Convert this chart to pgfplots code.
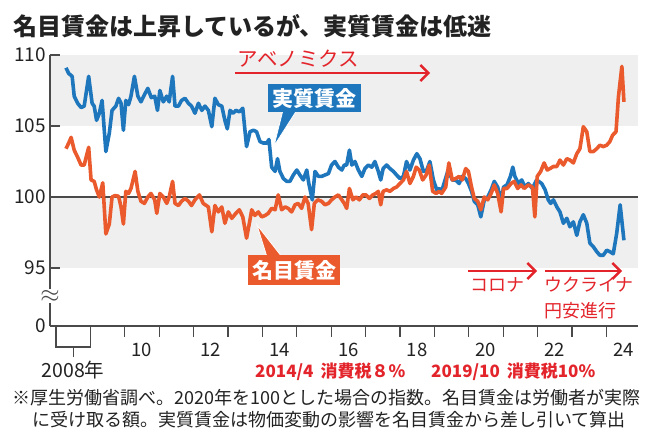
\documentclass[border=0pt]{standalone}
\usepackage{fontspec}
\setmainfont{Noto Sans CJK JP}
\usepackage{pgfplots}
\pgfplotsset{compat=1.18}
\usetikzlibrary{arrows.meta}
\definecolor{realblue}{HTML}{1E76BC}
\definecolor{nomorange}{HTML}{EA5A2C}
\definecolor{annred}{HTML}{E3242B}
\definecolor{band}{HTML}{EFEFEF}
\definecolor{axisgray}{HTML}{4A4A4A}
\definecolor{txt}{HTML}{222222}
\begin{document}
\begin{tikzpicture}
\begin{scope}[x=1pt,y=1pt]
\useasboundingbox (0,0) rectangle (656,432);
\fill[white] (0,0) rectangle (656,432);
\node[anchor=west, inner sep=0pt, text=txt, font=\fontsize{24}{24}\selectfont\bfseries] at (13,{432-26}) {名目賃金は上昇しているが、実質賃金は低迷};
\end{scope}
\begin{axis}[
  at={(50pt,106pt)}, anchor=south west,
  scale only axis, width=588pt, height=271pt,
  xmin=2007.826, xmax=2024.919, ymin=90.915, ymax=110,
  clip=false,
  axis on top,
  axis lines=left, axis line style={-, draw=axisgray, line width=1.2pt},
  ytick={90.915,95,100,105,110}, yticklabels={0,95,100,105,110},
  tick align=inside, major tick length=10pt,
  tick style={draw=axisgray, line width=1.2pt},
  xtick={2010.5,2012.5,2014.5,2016.5,2018.5,2020.5,2022.5,2024.5},
  xticklabels={10,12,14,16,18,20,22,24},
  major x tick style={draw=none},
  yticklabel style={font=\fontsize{19}{19}\selectfont, text=txt, anchor=east, inner sep=0pt, xshift=-4pt},
  xticklabel style={font=\fontsize{18.5}{18.5}\selectfont, text=txt, anchor=north, inner sep=0pt, yshift=-17pt},
]
\fill[band] (axis cs:2007.826,95) rectangle (axis cs:2024.919,100);
\fill[band] (axis cs:2007.826,105) rectangle (axis cs:2024.919,110);
\draw[axisgray, line width=1.2pt] (axis cs:2007.826,100) -- (axis cs:2024.919,100);
\pgfplotsinvokeforeach{2008,2009,2010,2011,2012,2013,2014,2015,2016,2017,2018,2019,2020,2021,2022,2023,2024}{
  \draw[axisgray, line width=1.2pt] (axis cs:#1,90.915) -- (axis cs:#1,90.14);
}
\addplot[realblue, line width=3.6pt, line join=round] coordinates {
(2008.29,109.1) (2008.37,108.7) (2008.47,108.5) (2008.53,107.1) (2008.63,106.6)
(2008.73,106.3) (2008.82,106.4) (2008.95,108.5) (2009.05,106.6) (2009.11,106.4)
(2009.18,105.4) (2009.26,105.9) (2009.34,106.8) (2009.45,103.2) (2009.55,104.5)
(2009.63,106.1) (2009.74,106.4) (2009.82,106.95) (2009.89,106.6) (2009.96,104.7)
(2010.03,106.8) (2010.11,106.5) (2010.18,107.1) (2010.28,108.5) (2010.38,107.1)
(2010.47,106.7) (2010.57,107.2) (2010.67,107.65) (2010.77,107.0) (2010.87,107.1)
(2010.95,106.1) (2011.02,107.5) (2011.12,106.7) (2011.22,107.1) (2011.29,106.7)
(2011.39,108.5) (2011.46,106.4) (2011.56,106.4) (2011.65,106.8) (2011.75,106.95)
(2011.85,106.6) (2011.94,106.4) (2012.04,105.9) (2012.14,106.6) (2012.24,106.1)
(2012.33,106.4) (2012.43,106.1) (2012.53,104.95) (2012.62,106.95) (2012.72,106.5)
(2012.82,106.4) (2012.91,105.4) (2012.98,104.8) (2013.06,106.1) (2013.15,105.9)
(2013.23,106.1) (2013.33,106.0) (2013.43,106.25) (2013.54,103.55) (2013.64,104.6)
(2013.74,104.7) (2013.83,104.6) (2013.93,103.9) (2014.03,103.8) (2014.13,103.8)
(2014.19,104.05) (2014.27,102.1) (2014.37,101.8) (2014.44,102.7) (2014.51,101.8)
(2014.61,101.3) (2014.71,101.1) (2014.80,101.1) (2014.90,101.55) (2015.00,101.9)
(2015.09,101.55) (2015.19,101.2) (2015.29,101.9) (2015.35,100.95) (2015.45,99.8)
(2015.53,101.8) (2015.63,101.45) (2015.72,101.45) (2015.82,101.55) (2015.92,101.65)
(2016.01,102.25) (2016.11,102.5) (2016.21,102.1) (2016.31,101.9) (2016.38,102.25)
(2016.45,102.25) (2016.53,103.3) (2016.60,102.25) (2016.69,102.5) (2016.79,101.9)
(2016.89,101.45) (2016.98,102.0) (2017.08,102.25) (2017.18,102.1) (2017.27,102.5)
(2017.37,101.8) (2017.44,101.2) (2017.51,102.0) (2017.61,102.25) (2017.71,102.0)
(2017.81,101.8) (2017.90,101.55) (2018.00,101.3) (2018.10,101.45) (2018.19,102.5)
(2018.29,101.9) (2018.39,102.6) (2018.49,103.05) (2018.58,102.7) (2018.68,101.8)
(2018.78,101.9) (2018.87,102.5) (2018.97,101.2) (2019.07,100.5) (2019.14,100.6)
(2019.21,100.4) (2019.40,101.9) (2019.52,101.2) (2019.62,101.2) (2019.72,100.95)
(2019.81,101.45) (2019.91,101.3) (2019.99,100.95) (2020.08,100.4) (2020.16,99.7)
(2020.26,99.45) (2020.35,98.6) (2020.45,99.8) (2020.55,100.0) (2020.65,100.5)
(2020.74,101.1) (2020.84,100.7) (2020.94,99.7) (2021.01,100.7) (2021.11,100.85)
(2021.21,101.45) (2021.28,102.1) (2021.34,101.45) (2021.44,100.95) (2021.54,101.2)
(2021.63,100.7) (2021.73,100.95) (2021.85,100.6) (2021.97,101.2) (2022.12,100.95)
(2022.22,100.5) (2022.31,99.8) (2022.38,99.55) (2022.46,99.8) (2022.56,99.3)
(2022.65,98.95) (2022.75,98.15) (2022.85,98.5) (2022.94,97.9) (2023.04,98.25)
(2023.14,97.3) (2023.23,98.25) (2023.33,98.75) (2023.43,98.15) (2023.52,96.75)
(2023.62,96.5) (2023.72,96.15) (2023.81,95.9) (2023.91,95.9) (2024.01,96.25)
(2024.10,96.15) (2024.20,96.0) (2024.30,97.45) (2024.40,99.45) (2024.51,96.95)
};
\addplot[nomorange, line width=3.6pt, line join=round] coordinates {
(2008.29,103.4) (2008.37,103.8) (2008.44,104.2) (2008.53,103.3) (2008.63,102.8)
(2008.73,102.25) (2008.82,102.25) (2008.95,103.5) (2009.02,101.2) (2009.11,101.1)
(2009.18,100.5) (2009.26,100.0) (2009.36,101.0) (2009.45,97.4) (2009.55,98.1)
(2009.63,100.0) (2009.72,100.1) (2009.82,100.05) (2009.89,99.3) (2009.96,98.1)
(2010.03,100.4) (2010.11,100.25) (2010.18,100.6) (2010.30,101.8) (2010.38,100.4)
(2010.47,99.7) (2010.57,99.55) (2010.67,100.0) (2010.76,100.25) (2010.87,99.8)
(2010.93,98.85) (2011.02,100.25) (2011.12,100.0) (2011.22,99.55) (2011.29,100.0)
(2011.39,101.1) (2011.46,99.55) (2011.56,99.4) (2011.65,99.7) (2011.75,99.9)
(2011.85,99.7) (2011.94,99.4) (2012.04,99.8) (2012.17,100.15) (2012.28,99.55)
(2012.43,99.3) (2012.53,97.55) (2012.62,99.4) (2012.72,98.95) (2012.82,99.3)
(2012.91,98.15) (2013.01,98.95) (2013.11,98.5) (2013.23,98.85) (2013.33,99.1)
(2013.43,98.6) (2013.54,97.1) (2013.64,98.4) (2013.69,99.1) (2013.78,98.7)
(2013.88,98.95) (2013.98,98.6) (2014.08,98.7) (2014.17,98.85) (2014.27,99.2)
(2014.37,99.1) (2014.46,100.15) (2014.56,99.1) (2014.66,99.3) (2014.75,99.2)
(2014.85,98.95) (2014.95,99.45) (2015.04,99.55) (2015.14,99.2) (2015.24,100.0)
(2015.33,99.55) (2015.43,97.7) (2015.51,99.55) (2015.61,99.8) (2015.72,99.7)
(2015.82,99.45) (2015.92,99.55) (2016.01,99.8) (2016.11,100.0) (2016.21,100.15)
(2016.31,99.8) (2016.38,99.55) (2016.45,99.2) (2016.53,100.6) (2016.63,99.8)
(2016.72,100.0) (2016.82,99.8) (2016.92,100.15) (2017.01,100.15) (2017.11,99.9)
(2017.21,100.15) (2017.30,100.25) (2017.37,100.4) (2017.44,99.45) (2017.51,100.4)
(2017.61,100.5) (2017.71,100.4) (2017.81,100.6) (2017.90,100.7) (2018.00,100.95)
(2018.10,101.2) (2018.19,101.8) (2018.29,100.95) (2018.39,101.45) (2018.47,102.1)
(2018.56,101.9) (2018.66,101.2) (2018.76,101.55) (2018.85,102.25) (2018.95,100.4)
(2019.05,100.25) (2019.14,100.4) (2019.21,100.25) (2019.33,100.7) (2019.42,102.4)
(2019.52,101.2) (2019.62,101.3) (2019.72,101.45) (2019.81,101.2) (2019.91,102.0)
(2019.99,101.8) (2020.08,100.7) (2020.16,99.9) (2020.26,99.7) (2020.35,99.1)
(2020.45,100.0) (2020.55,99.8) (2020.65,100.25) (2020.74,100.85) (2020.84,100.25)
(2020.94,98.95) (2021.01,100.6) (2021.11,100.6) (2021.23,100.95) (2021.32,101.1)
(2021.42,100.6) (2021.52,100.85) (2021.61,100.6) (2021.73,100.85) (2021.85,100.7)
(2021.92,98.6) (2021.99,101.45) (2022.09,101.8) (2022.19,102.4) (2022.28,101.9)
(2022.36,102.0) (2022.46,102.15) (2022.56,102.15) (2022.65,102.6) (2022.75,102.25)
(2022.85,102.7) (2022.94,102.6) (2023.04,102.4) (2023.14,103.05) (2023.23,103.4)
(2023.33,104.95) (2023.43,104.6) (2023.52,103.2) (2023.62,103.2) (2023.72,103.4)
(2023.81,103.65) (2023.91,103.55) (2024.01,103.65) (2024.10,103.9) (2024.18,104.35)
(2024.28,104.6) (2024.35,107.05) (2024.45,109.2) (2024.51,106.7)
};
\end{axis}
\begin{scope}[x=1pt,y=1pt]
% axis break mark
\node[fill=white, inner sep=1pt, text=axisgray, font=\fontsize{26}{26}\selectfont] at (50,{432-296}) {$\approx$};
% 2008 bracket
\draw[axisgray, line width=1.2pt] (56,{432-337}) -- (56,{432-347}) -- (90.4,{432-347}) -- (90.4,{432-337});
\draw[axisgray, line width=1.2pt] (73.2,{432-347}) -- (73.2,{432-357});
\node[text=txt, inner sep=0pt, font=\fontsize{19.5}{19.5}\selectfont] at (73,{432-370}) {2008年};
% tax labels
\node[anchor=west, text=annred, inner sep=0pt, font=\fontsize{17}{17}\selectfont\bfseries] at (255,{432-372}) {2014/4\hspace{7pt}消費税８\%};
\node[anchor=west, text=annred, inner sep=0pt, font=\fontsize{17}{17}\selectfont\bfseries] at (431,{432-372}) {2019/10\hspace{7pt}消費税10\%};
% footnote
\node[anchor=west, text=txt, inner sep=0pt, font=\fontsize{18}{18}\selectfont] at (12,{432-398}) {※厚生労働省調べ。2020年を100とした場合の指数。名目賃金は労働者が実際};
\node[anchor=west, text=txt, inner sep=0pt, font=\fontsize{18}{18}\selectfont] at (32,{432-420}) {に受け取る額。実質賃金は物価変動の影響を名目賃金から差し引いて算出};
% Abenomics
\node[anchor=west, text=annred, inner sep=0pt, font=\fontsize{20.5}{21}\selectfont] at (237,{432-59}) {アベノミクス};
\draw[annred, line width=2.4pt, -{Straight Barb[length=8pt,width=16pt]}] (235,{432-73}) -- (430,{432-73});
% corona / ukraine
\draw[annred, line width=2.4pt, -{Straight Barb[length=8pt,width=16pt]}] (468,{432-271}) -- (537,{432-271});
\draw[annred, line width=2.4pt, -{Straight Barb[length=8pt,width=16pt]}] (545,{432-271}) -- (622,{432-271});
\node[anchor=west, text=annred, inner sep=0pt, font=\fontsize{18}{18}\selectfont] at (470,{432-285}) {コロナ};
\node[anchor=west, text=annred, inner sep=0pt, font=\fontsize{18}{18}\selectfont] at (544,{432-285}) {ウクライナ};
\node[anchor=west, text=annred, inner sep=0pt, font=\fontsize{18}{18}\selectfont] at (544,{432-311}) {円安進行};
% series labels
\fill[realblue, draw=white, line width=0.8pt] (283,{432-110}) -- (274,{432-146}) -- (297,{432-110}) -- cycle;
\node[fill=realblue, text=white, inner sep=0pt, minimum width=93pt, minimum height=28pt, font=\fontsize{21}{21}\selectfont\bfseries] at (314.5,{432-98.5}) {実質賃金};
\fill[nomorange, draw=white, line width=0.8pt] (267,{432-257}) -- (257,{432-225}) -- (282,{432-257}) -- cycle;
\node[fill=nomorange, text=white, inner sep=0pt, minimum width=92pt, minimum height=30pt, font=\fontsize{21}{21}\selectfont\bfseries] at (294,{432-270}) {名目賃金};
\end{scope}
\end{tikzpicture}
\end{document}
